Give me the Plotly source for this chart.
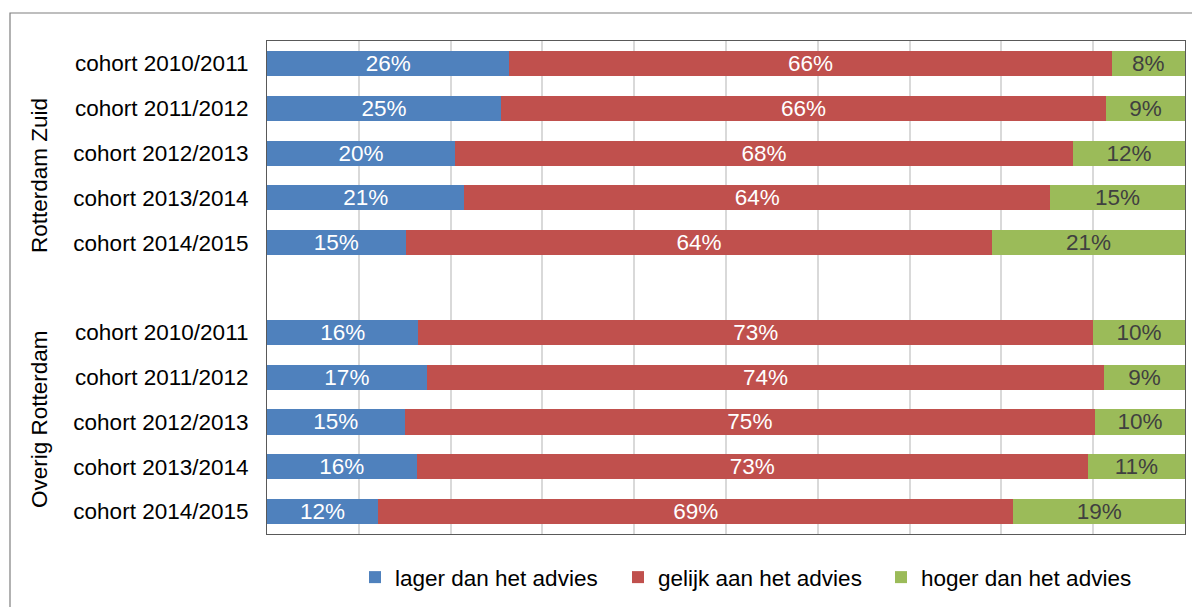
import plotly.graph_objects as go

cohorts = ["cohort 2010/2011", "cohort 2011/2012", "cohort 2012/2013",
           "cohort 2013/2014", "cohort 2014/2015"]
groups = ["Rotterdam Zuid", "Overig Rotterdam"]

# values (percent) per row: Rotterdam Zuid rows then Overig Rotterdam rows
lager = [26.4, 25.5, 20.5, 21.5, 15.1, 16.5, 17.4, 15.0, 16.3, 12.1]
gelijk = [65.6, 65.9, 67.3, 63.8, 63.9, 73.5, 73.8, 75.2, 73.1, 69.2]
hoger = [8.0, 8.6, 12.2, 14.7, 21.0, 10.0, 8.8, 9.8, 10.6, 18.7]

lager_lbl = [26, 25, 20, 21, 15, 16, 17, 15, 16, 12]
gelijk_lbl = [66, 66, 68, 64, 64, 73, 74, 75, 73, 69]
hoger_lbl = [8, 9, 12, 15, 21, 10, 9, 10, 11, 19]

series_names = ["lager dan het advies", "gelijk aan het advies", "hoger dan het advies"]
colors = ["#4F81BD", "#C0504D", "#9BBB59"]
text_colors = ["white", "white", "#404040"]

# y positions: 5 rows, empty slot, 5 rows
ypos = [0, 1, 2, 3, 4, 6, 7, 8, 9, 10]
ticklabels = cohorts + cohorts

FONT = "Liberation Sans, Arial, sans-serif"
FS = 22.5

fig = go.Figure()
for name, vals, lbls, col, tcol in zip(series_names, [lager, gelijk, hoger],
                                        [lager_lbl, gelijk_lbl, hoger_lbl],
                                        colors, text_colors):
    fig.add_trace(go.Bar(
        y=ypos, x=vals, orientation="h", name=name,
        marker=dict(color=col, line=dict(width=0)),
        text=[f"{v}%" for v in lbls], textposition="inside",
        insidetextanchor="middle", textangle=0,
        textfont=dict(color=tcol, size=FS, family=FONT),
        constraintext="none", hoverinfo="skip",
    ))

W, H = 1200, 607
OFF = 8  # page body margin
L, R, T, B = 259, 23, 33, 81
pw, ph = W - L - R, H - T - B

def px_x(p):
    return (p - OFF - L) / pw

def px_y(p):
    return 1 - (p - OFF - T) / ph

fig.update_layout(
    barmode="stack", bargap=0.44,
    width=W, height=H,
    margin=dict(l=L, r=R, t=T, b=B),
    paper_bgcolor="white", plot_bgcolor="white",
    font=dict(family=FONT, size=FS, color="#000000"),
    showlegend=True,
    legend=dict(orientation="h", x=px_x(355), xanchor="left",
                y=px_y(556), yanchor="top",
                entrywidth=218, entrywidthmode="pixels",
                font=dict(size=FS, family=FONT, color="#000000"),
                traceorder="normal", itemclick=False),
    xaxis=dict(range=[0, 100], showgrid=True, gridcolor="#D9D9D9", gridwidth=1.5,
               dtick=10, showticklabels=False, zeroline=False,
               showline=True, linecolor="#595959", linewidth=1, mirror=True,
               fixedrange=True),
    yaxis=dict(range=[10.5, -0.5], tickvals=ypos, ticktext=ticklabels,
               showgrid=False, zeroline=False, ticks="",
               ticklabelstandoff=13,
               tickfont=dict(size=FS, family=FONT, color="#000000"),
               showline=True, linecolor="#595959", linewidth=1, mirror=True,
               fixedrange=True),
    shapes=[dict(type="rect", xref="paper", yref="paper",
                 x0=px_x(10), x1=px_x(1260), y0=px_y(13), y1=px_y(700),
                 line=dict(color="#7F7F7F", width=1.2), fillcolor="rgba(0,0,0,0)",
                 layer="below")],
    annotations=[
        dict(text=groups[0], textangle=-90, xref="paper", yref="paper",
             x=px_x(39), y=px_y(176), xanchor="center", yanchor="middle",
             showarrow=False,
             font=dict(size=FS, family=FONT, color="#000000")),
        dict(text=groups[1], textangle=-90, xref="paper", yref="paper",
             x=px_x(39), y=px_y(419), xanchor="center", yanchor="middle",
             showarrow=False,
             font=dict(size=FS, family=FONT, color="#000000")),
    ],
)

fig.write_html("out.html")
